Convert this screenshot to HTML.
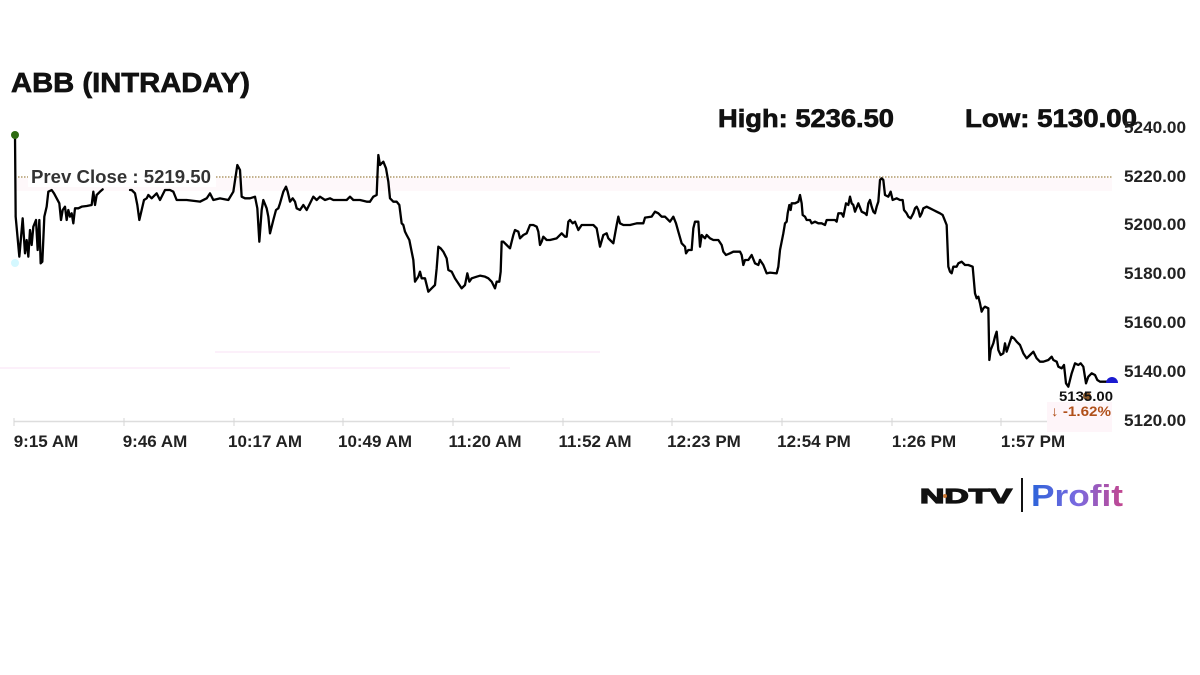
<!DOCTYPE html>
<html>
<head>
<meta charset="utf-8">
<style>
  html, body { margin: 0; padding: 0; background: #ffffff; }
  svg { display: block; }
  text { font-family: "Liberation Sans", Arial, sans-serif; }
</style>
</head>
<body>
<svg width="1200" height="675" viewBox="0 0 1200 675" xmlns="http://www.w3.org/2000/svg">
  <defs>
    <linearGradient id="pg" x1="0" y1="0" x2="1" y2="0">
      <stop offset="0" stop-color="#2b63d9"/>
      <stop offset="0.5" stop-color="#7a6ae0"/>
      <stop offset="1" stop-color="#c2468f"/>
    </linearGradient>
  </defs>
  <rect x="0" y="0" width="1200" height="675" fill="#ffffff"/>

  <!-- Title -->
  <text x="11" y="92" font-size="28" font-weight="bold" fill="#111" stroke="#111" stroke-width="0.7" textLength="239" lengthAdjust="spacingAndGlyphs">ABB (INTRADAY)</text>

  <!-- High / Low -->
  <text x="718" y="127" font-size="25" font-weight="bold" fill="#111" stroke="#111" stroke-width="0.7" textLength="176" lengthAdjust="spacingAndGlyphs">High: 5236.50</text>
  <text x="965" y="127" font-size="25" font-weight="bold" fill="#111" stroke="#111" stroke-width="0.7" textLength="172" lengthAdjust="spacingAndGlyphs">Low: 5130.00</text>

  <!-- faint artifacts -->
  <line x1="215" y1="352" x2="600" y2="352" stroke="#fcecf9" stroke-width="1.5"/>
  <line x1="0" y1="368" x2="510" y2="368" stroke="#fcecf9" stroke-width="1.5"/>

  <!-- prev close band + line -->
  <rect x="15" y="178" width="1097" height="13" fill="#fef8fa"/>
  <line x1="15" y1="177" x2="1112" y2="177" stroke="#b09868" stroke-width="1.5" stroke-dasharray="1.5 1.5"/>
  <rect x="28" y="165" width="188" height="22" fill="#ffffff"/>
  <text x="31" y="183" font-size="18" font-weight="bold" fill="#333" textLength="180" lengthAdjust="spacingAndGlyphs">Prev Close : 5219.50</text>

  <!-- Y axis labels -->
  <g font-size="17" font-weight="bold" fill="#222">
    <text x="1124" y="133" textLength="62" lengthAdjust="spacingAndGlyphs">5240.00</text>
    <text x="1124" y="182" textLength="62" lengthAdjust="spacingAndGlyphs">5220.00</text>
    <text x="1124" y="230" textLength="62" lengthAdjust="spacingAndGlyphs">5200.00</text>
    <text x="1124" y="279" textLength="62" lengthAdjust="spacingAndGlyphs">5180.00</text>
    <text x="1124" y="328" textLength="62" lengthAdjust="spacingAndGlyphs">5160.00</text>
    <text x="1124" y="377" textLength="62" lengthAdjust="spacingAndGlyphs">5140.00</text>
    <text x="1124" y="426" textLength="62" lengthAdjust="spacingAndGlyphs">5120.00</text>
  </g>

  <!-- X axis -->
  <line x1="14" y1="421.5" x2="1112" y2="421.5" stroke="#dddddd" stroke-width="1.5"/>
  <g stroke="#d6d6d6" stroke-width="1">
    <line x1="14" y1="418" x2="14" y2="426"/>
    <line x1="124" y1="418" x2="124" y2="426"/>
    <line x1="234" y1="418" x2="234" y2="426"/>
    <line x1="343" y1="418" x2="343" y2="426"/>
    <line x1="453" y1="418" x2="453" y2="426"/>
    <line x1="563" y1="418" x2="563" y2="426"/>
    <line x1="672" y1="418" x2="672" y2="426"/>
    <line x1="782" y1="418" x2="782" y2="426"/>
    <line x1="892" y1="418" x2="892" y2="426"/>
    <line x1="1001" y1="418" x2="1001" y2="426"/>
  </g>
  <g font-size="17" font-weight="bold" fill="#222" text-anchor="middle">
    <text x="46" y="447">9:15 AM</text>
    <text x="155" y="447">9:46 AM</text>
    <text x="265" y="447">10:17 AM</text>
    <text x="375" y="447">10:49 AM</text>
    <text x="485" y="447">11:20 AM</text>
    <text x="595" y="447">11:52 AM</text>
    <text x="704" y="447">12:23 PM</text>
    <text x="814" y="447">12:54 PM</text>
    <text x="924" y="447">1:26 PM</text>
    <text x="1033" y="447">1:57 PM</text>
  </g>

  <!-- end label box -->
  <rect x="1047" y="402" width="65" height="30" fill="#fef5f9"/>

  <!-- Series -->
  <g fill="none" stroke="#000" stroke-width="2.3" stroke-linejoin="round" stroke-linecap="round">
    <g transform="translate(0,120) scale(0.333333)">
      <polyline vector-effect="non-scaling-stroke" points="45,45 47,290 58,410 68,295 75,400 80,360 85,410 90,330 95,375 100,320 108,300 113,390 118,300 122,430 127,425 133,290 140,260 145,215 155,210 162,220 170,235 178,250 183,300 188,270 195,260 200,300 205,270 210,290 215,280 220,310 225,265 235,265 245,260 260,258 275,255 280,215 285,255 290,225 300,215 308,208"/>
      <polyline vector-effect="non-scaling-stroke" points="390,210 395,210 405,220 412,255 418,300 425,270 432,240 440,235 445,225 455,235 470,220 480,240 495,210 510,210 520,215 530,240 560,240 600,245 620,235 630,220 640,240 660,235 685,240 700,215 712,135 720,150 725,230 735,235 750,235 765,230 772,265 778,365 785,270 790,240 800,265 805,290 810,340 815,320 820,300 828,270 835,265 840,250 850,215 858,200 863,215 870,245 878,235 885,245 890,265 900,270 910,255 920,270 930,250 940,230 950,240 960,230 975,240 990,235 1000,240 1020,240 1040,240 1050,230 1060,240 1080,240 1100,245 1110,245"/>
    </g>
    <g transform="translate(370,145) scale(0.333333)">
      <polyline vector-effect="non-scaling-stroke" points="0,170 10,155 20,150 22,100 25,30 30,60 40,50 48,70 55,110 60,160 70,170 80,170 88,180 95,235 100,240 105,260 110,270 118,285 125,320 130,345 135,410 145,395 150,380 155,400 165,400 175,440 185,430 195,420 200,370 205,305 212,310 220,320 230,340 235,375 245,380 255,400 265,415 275,430 285,420 292,385 298,410 305,400 320,395 330,392 345,395 355,400 365,410 375,430 380,410 388,410 392,380 395,290 400,290 410,300 420,310 430,270 435,255 445,260 450,280 460,270 470,265 480,240 490,240 500,245 505,260 510,300 515,290 520,275 530,285 540,285 560,280 575,265 585,275 590,275 595,230 600,225 608,235 615,230 625,255 635,240 650,240 670,240 680,250 690,305 700,270 710,265 715,280 720,285 730,295 740,240 745,215 750,235 760,240 780,240 800,235 820,235 825,218 845,215 855,200 865,205 875,215 885,215 900,230 910,215 918,235 925,260 935,295 945,305 948,325 955,315 965,315 970,250 975,230 985,230 990,305 995,270 1005,280 1010,270 1020,280 1030,285 1045,285 1055,300 1060,320 1068,330 1080,325 1090,320 1110,320 1115,330 1120,360 1125,345 1135,345 1145,330 1155,355 1165,360 1170,345"/>
    </g>
    <g transform="translate(760,170) scale(0.333333)">
      <polyline vector-effect="non-scaling-stroke" points="0,270 10,285 20,310 30,308 50,310 55,290 60,240 65,215 70,190 75,160 80,155 83,130 88,105 92,120 95,100 105,100 115,95 120,75 125,100 128,135 135,140 140,150 150,150 155,160 165,155 175,160 185,160 195,165 200,150 210,150 225,150 230,155 235,130 245,130 250,140 258,100 265,105 270,80 275,100 280,105 285,125 295,100 305,125 315,130 320,135 325,100 330,90 335,110 340,125 345,130 350,110 355,95 360,30 365,25 370,30 375,75 385,80 392,65 398,90 410,85 420,90 428,90 432,120 440,130 445,140 452,145 460,130 465,115 470,110 475,120 480,140 485,130 490,115 500,110 510,115 520,120 530,125 540,130 548,135 552,145 560,165 565,290 570,305 575,310 580,290 590,290 595,280 605,275 615,285 625,285 638,290 645,370 650,385 655,380 660,400 665,425 670,415 675,410 685,415 688,570 692,540 700,520 705,500 710,485 715,540 722,555 730,550 735,520 740,545 745,530 755,500 762,505 770,515 780,525 790,550 800,565 810,555 820,545 830,565 840,575 850,575 865,570 875,560 880,570 890,575 895,590 905,595 912,585 918,640 925,650 935,610 945,580 955,585 962,580 970,590 978,640 985,620 995,610 1005,615 1012,630 1020,635 1030,635 1045,635 1055,633"/>
    </g>
  </g>

  <!-- markers -->
  <circle cx="15" cy="135" r="4" fill="#2d6a10"/>
  <circle cx="15" cy="263" r="4" fill="#d4f8ff"/>
  <path d="M1106,383 A6,6 0 0 1 1118,383 Z" fill="#1a1ad0"/>
  <circle cx="1087" cy="396" r="4" fill="#8b5a2b"/>

  <!-- end labels -->
  <text x="1059" y="401" font-size="14" font-weight="bold" fill="#111" textLength="54" lengthAdjust="spacingAndGlyphs">5135.00</text>
  <text x="1051" y="416" font-size="14" font-weight="bold" fill="#b0501a" textLength="60" lengthAdjust="spacingAndGlyphs">↓ -1.62%</text>

  <!-- Logo -->
  <text x="920" y="503" font-size="20" font-weight="900" fill="#111" stroke="#111" stroke-width="1.2" textLength="92" lengthAdjust="spacingAndGlyphs">NDTV</text>
  <circle cx="945" cy="496" r="2" fill="#c87533"/>
  <line x1="1022" y1="478" x2="1022" y2="512" stroke="#111" stroke-width="2"/>
  <text x="1031" y="506" font-size="31" font-weight="bold" fill="url(#pg)" textLength="92" lengthAdjust="spacingAndGlyphs">Profit</text>
</svg>
</body>
</html>
